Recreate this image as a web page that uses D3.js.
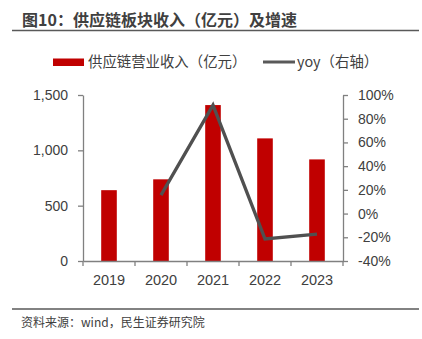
<!DOCTYPE html>
<html>
<head>
<meta charset="utf-8">
<script src="https://cdn.jsdelivr.net/npm/d3@7"></script>
<style>
  body { margin: 0; background: #fff; }
  svg { display: block; font-family: "Noto Sans", "Noto Sans CJK SC", sans-serif; }
</style>
</head>
<body>
<svg id="chart" width="422" height="339"></svg>
<script>
var years = ['2019', '2020', '2021', '2022', '2023'];
var revenue = [640, 738, 1409, 1108, 918];
var yoy = [null, 15.5, 91.5, -21.4, -17.3];
var leftTicks = [0, 500, 1000, 1500];
var rightTicks = [-40, -20, 0, 20, 40, 60, 80, 100];

var margin = {top: 95, left: 83, right: 79, bottom: 78},
    width = 422 - margin.left - margin.right,
    height = 339 - margin.top - margin.bottom;

var svg = d3.select('#chart');
var textColor = '#404040', axisColor = '#808080';

// title
svg.append('text')
    .attr('x', 22).attr('y', 26)
    .style('font-family', '"Noto Sans CJK SC", sans-serif')
    .style('font-size', '16px').style('font-weight', 'bold')
    .style('fill', '#404040')
    .text('图10：供应链板块收入（亿元）及增速');
svg.append('line')
    .attr('x1', 12).attr('x2', 419).attr('y1', 30.5).attr('y2', 30.5)
    .style('stroke', '#595959').style('stroke-width', 1.5);

// legend
svg.append('rect').attr('x', 53).attr('y', 58.5).attr('width', 31).attr('height', 7.5).style('fill', '#C00000');
svg.append('text').attr('x', 88).attr('y', 67)
    .style('font-family', '"Noto Sans CJK SC", sans-serif')
    .style('font-size', '14.4px').style('fill', textColor)
    .text('供应链营业收入（亿元）');
svg.append('line').attr('x1', 263).attr('x2', 295).attr('y1', 62).attr('y2', 62)
    .style('stroke', '#595959').style('stroke-width', 3);
svg.append('text').attr('x', 297).attr('y', 67)
    .style('font-family', '"Noto Sans CJK SC", sans-serif')
    .style('font-size', '14.4px').style('fill', textColor)
    .text('yoy（右轴）');

var g = svg.append('g').attr('transform', 'translate(' + margin.left + ',' + margin.top + ')');

var x = d3.scaleBand().domain(years).range([0, width]).paddingInner(0.7).paddingOuter(0.35);
var yL = d3.scaleLinear().domain([0, 1500]).range([height, 0]);
var yR = d3.scaleLinear().domain([-40, 100]).range([height, 0]);

// bars
g.selectAll('.bar').data(revenue).enter().append('rect')
    .attr('class', 'bar')
    .attr('x', function(d, i) { return x(years[i]); })
    .attr('width', x.bandwidth())
    .attr('y', function(d) { return yL(d); })
    .attr('height', function(d) { return height - yL(d); })
    .style('fill', '#C00000');

// yoy line
var pts = yoy.map(function(v, i) { return {year: years[i], v: v}; }).filter(function(d) { return d.v !== null; });
var line = d3.line()
    .x(function(d) { return x(d.year) + x.bandwidth() / 2; })
    .y(function(d) { return yR(d.v); });
g.append('path').datum(pts)
    .attr('d', line)
    .style('fill', 'none').style('stroke', '#505050').style('stroke-width', 3.3);

// axes
function styleAxis(sel) {
    sel.selectAll('path, line').style('stroke', axisColor).style('stroke-width', 1.3);
    sel.selectAll('text').style('fill', textColor).style('font-size', '14px');
}

g.append('g')
    .call(d3.axisLeft(yL).tickValues(leftTicks).tickSize(5).tickSizeOuter(0).tickPadding(10).tickFormat(d3.format(',')))
    .call(styleAxis);

g.append('g').attr('transform', 'translate(' + width + ',0)')
    .call(d3.axisRight(yR).tickValues(rightTicks).tickSize(5).tickSizeOuter(0).tickPadding(10).tickFormat(function(d) { return d + '%'; }))
    .call(styleAxis);

var xAxis = g.append('g').attr('transform', 'translate(0,' + height + ')')
    .call(d3.axisBottom(x).tickSize(0).tickPadding(14))
    .call(styleAxis);
xAxis.selectAll('text').style('font-size', '14.5px');
// category boundary ticks
var bounds = years.map(function(y) { return x(y) - x.step() * x.paddingInner() / 2; }).concat([width]);
xAxis.selectAll('.bound').data(bounds).enter().append('line')
    .attr('class', 'bound')
    .attr('x1', function(d) { return d; }).attr('x2', function(d) { return d; })
    .attr('y1', 0).attr('y2', 5)
    .style('stroke', axisColor).style('stroke-width', 1.3);

// source
svg.append('line')
    .attr('x1', 12).attr('x2', 419).attr('y1', 309).attr('y2', 309)
    .style('stroke', '#595959').style('stroke-width', 1.5);
svg.append('text').attr('x', 21).attr('y', 327)
    .style('font-family', '"Noto Sans CJK SC", sans-serif')
    .style('font-size', '12px').style('fill', textColor)
    .text('资料来源：wind，民生证券研究院');
</script>
</body>
</html>
